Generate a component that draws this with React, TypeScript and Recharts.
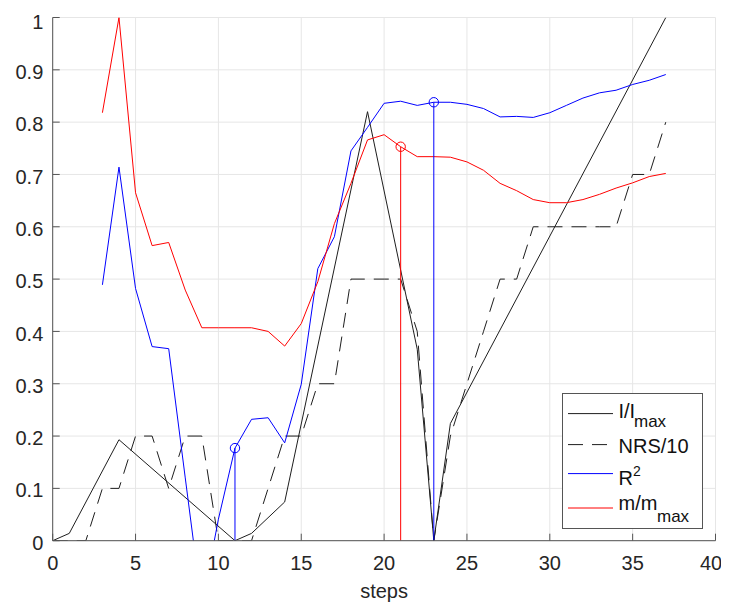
import { LineChart, Line, XAxis, YAxis, CartesianGrid, Legend } from "recharts";

const xTicks = [0, 5, 10, 15, 20, 25, 30, 35, 40];
const yTicks = [0, 0.1, 0.2, 0.3, 0.4, 0.5, 0.6, 0.7, 0.8, 0.9, 1];

// I/Imax (vertices of the polyline)
const currentSteps = [0, 1, 4, 11, 12, 14, 19, 22, 23, 24, 37];
const currentValues = [0, 0.014, 0.193, 0, 0.014, 0.074, 0.82, 0.366, 0, 0.224, 1.0];

// NRS/10
const nrsSteps = [
  0, 1, 2, 3, 4, 5, 6, 7, 8, 9, 10, 11, 12, 13, 14, 15, 16, 17, 18, 19, 20, 21, 22, 23, 24, 25,
  26, 27, 28, 29, 30, 31, 32, 33, 34, 35, 36, 37,
];
const nrsValues = [
  0, 0, 0, 0.1, 0.1, 0.2, 0.2, 0.1, 0.2, 0.2, 0, 0, 0, 0.1, 0.2, 0.2, 0.3, 0.3, 0.5, 0.5, 0.5,
  0.5, 0.4, 0, 0.2, 0.3, 0.4, 0.5, 0.5, 0.6, 0.6, 0.6, 0.6, 0.6, 0.6, 0.7, 0.7, 0.8,
];

// R^2 and m/mmax
const fitSteps = [
  3, 4, 5, 6, 7, 8, 9, 10, 11, 12, 13, 14, 15, 16, 17, 18, 19, 20, 21, 22, 23, 24, 25, 26, 27, 28,
  29, 30, 31, 32, 33, 34, 35, 36, 37,
];
const r2Values = [
  0.489, 0.714, 0.482, 0.371, 0.367, 0.12, -0.125, 0.041, 0.177, 0.232, 0.235, 0.187, 0.299, 0.52,
  0.581, 0.745, 0.79, 0.836, 0.84, 0.832, 0.838, 0.838, 0.834, 0.826, 0.81, 0.811, 0.809, 0.818,
  0.832, 0.846, 0.856, 0.861, 0.872, 0.88, 0.891,
];
const massValues = [
  0.818, 1.0, 0.665, 0.564, 0.57, 0.479, 0.407, 0.407, 0.407, 0.407, 0.4, 0.372, 0.415, 0.495,
  0.606, 0.683, 0.766, 0.776, 0.753, 0.734, 0.734, 0.733, 0.724, 0.708, 0.683, 0.669, 0.652, 0.646,
  0.646, 0.652, 0.662, 0.674, 0.684, 0.696, 0.702,
];

// stems with circle markers
const r2StemSteps = [11, 23];
const r2StemValues = [0.177, 0.838];
const massStemSteps = [21];
const massStemValues = [0.753];

const toRows = (steps: number[], values: number[]) =>
  steps.map((step, i) => ({ step, value: values[i] }));

const currentData = toRows(currentSteps, currentValues);
const nrsData = toRows(nrsSteps, nrsValues);
const r2Data = toRows(fitSteps, r2Values);
const massData = toRows(fitSteps, massValues);

const stemRows = (steps: number[], values: number[]) =>
  steps.map((s, i) => [
    { step: s, value: 0 },
    { step: s, value: values[i] },
  ]);

const BLACK = "#1e1e1e";
const BLUE = "#0000ff";
const RED = "#ff0000";
const AXIS = "#555";
const FONT = "'Liberation Sans', Arial, Helvetica, sans-serif";

const stemDot = (color: string) => (props: any) => {
  const { cx, cy, index } = props;
  if (index !== 1) return <g key={`d${index}`} />;
  return <circle key={`d${index}`} cx={cx} cy={cy} r={4.7} fill="none" stroke={color} strokeWidth={1} />;
};

function LegendBox() {
  const t = { fontFamily: FONT, fill: "#111" };
  return (
    <div
      style={{
        width: 141,
        height: 136,
        border: `1px solid ${AXIS}`,
        background: "#fff",
        boxSizing: "border-box",
      }}
    >
      <svg width={139} height={134} style={{ display: "block" }}>
        <g transform="translate(-1,-1)">
          <line x1={6} x2={51} y1={20.6} y2={20.6} stroke={BLACK} strokeWidth={1} />
          <text x={56.5} y={25} fontSize={20} {...t}>I/I</text>
          <text x={72} y={34} fontSize={17} {...t}>max</text>

          <line x1={6} x2={51} y1={51.6} y2={51.6} stroke={BLACK} strokeWidth={1} strokeDasharray="15 9" />
          <text x={56.5} y={60} fontSize={20} {...t}>NRS/10</text>

          <line x1={6} x2={51} y1={80.6} y2={80.6} stroke={BLUE} strokeWidth={1} />
          <text x={56.5} y={92.3} fontSize={20} {...t}>R</text>
          <text x={71} y={83} fontSize={14} {...t}>2</text>

          <line x1={6} x2={51} y1={115} y2={115} stroke={RED} strokeWidth={1} />
          <text x={56.5} y={117.3} fontSize={20} {...t}>m/m</text>
          <text x={95} y={129} fontSize={17} {...t}>max</text>
        </g>
      </svg>
    </div>
  );
}

export default function App() {
  const tickStyle = { fontSize: 20, fill: "#262626", fontFamily: FONT };
  return (
    <LineChart width={713} height={595} margin={{ top: 9.5, right: 5.5, bottom: 0, left: 0 }}>
      <CartesianGrid stroke="#e6e6e6" />
      <XAxis
        dataKey="step"
        type="number"
        domain={[0, 40]}
        ticks={xTicks}
        height={62.3}
        tickSize={-7}
        tickMargin={22}
        tick={tickStyle}
        axisLine={{ stroke: AXIS }}
        tickLine={{ stroke: AXIS }}
        allowDataOverflow
        label={{
          value: "steps",
          position: "insideBottom",
          offset: 5,
          style: { fontSize: 20, fill: "#262626", fontFamily: FONT },
        }}
      />
      <XAxis
        xAxisId="top"
        orientation="top"
        dataKey="step"
        type="number"
        domain={[0, 40]}
        ticks={xTicks}
        height={0}
        tickSize={-7}
        tick={false}
        axisLine={{ stroke: AXIS }}
        tickLine={{ stroke: AXIS }}
      />
      <YAxis
        type="number"
        domain={[0, 1]}
        ticks={yTicks}
        width={44.7}
        tickSize={-7}
        tickMargin={16.4}
        tick={{ ...tickStyle, dy: 2 }}
        tickFormatter={(v: number) => String(Math.round(v * 10) / 10)}
        axisLine={{ stroke: AXIS }}
        tickLine={{ stroke: AXIS }}
        allowDataOverflow
      />
      <YAxis
        yAxisId="right"
        orientation="right"
        type="number"
        domain={[0, 1]}
        ticks={yTicks}
        width={0}
        tickSize={-7}
        tick={false}
        axisLine={{ stroke: AXIS }}
        tickLine={{ stroke: AXIS }}
      />
      <Legend
        layout="vertical"
        align="center"
        verticalAlign="middle"
        width={141}
        height={136}
        wrapperStyle={{ left: 554.3, top: 384.7, width: 141, height: 136 }}
        content={() => <LegendBox />}
      />
      <Line data={currentData} dataKey="value" type="linear" stroke={BLACK} strokeWidth={1} dot={false} activeDot={false} isAnimationActive={false} />
      <Line data={nrsData} dataKey="value" type="linear" stroke={BLACK} strokeWidth={1} strokeDasharray="15 9" dot={false} activeDot={false} isAnimationActive={false} />
      <Line data={r2Data} dataKey="value" type="linear" stroke={BLUE} strokeWidth={1} dot={false} activeDot={false} isAnimationActive={false} />
      <Line data={massData} dataKey="value" type="linear" stroke={RED} strokeWidth={1} dot={false} activeDot={false} isAnimationActive={false} />
      {stemRows(r2StemSteps, r2StemValues).map((rows, i) => (
        <Line key={`bs${i}`} data={rows} dataKey="value" type="linear" stroke={BLUE} strokeWidth={1} dot={stemDot(BLUE)} activeDot={false} isAnimationActive={false} />
      ))}
      {stemRows(massStemSteps, massStemValues).map((rows, i) => (
        <Line key={`rs${i}`} data={rows} dataKey="value" type="linear" stroke={RED} strokeWidth={1} dot={stemDot(RED)} activeDot={false} isAnimationActive={false} />
      ))}
    </LineChart>
  );
}
